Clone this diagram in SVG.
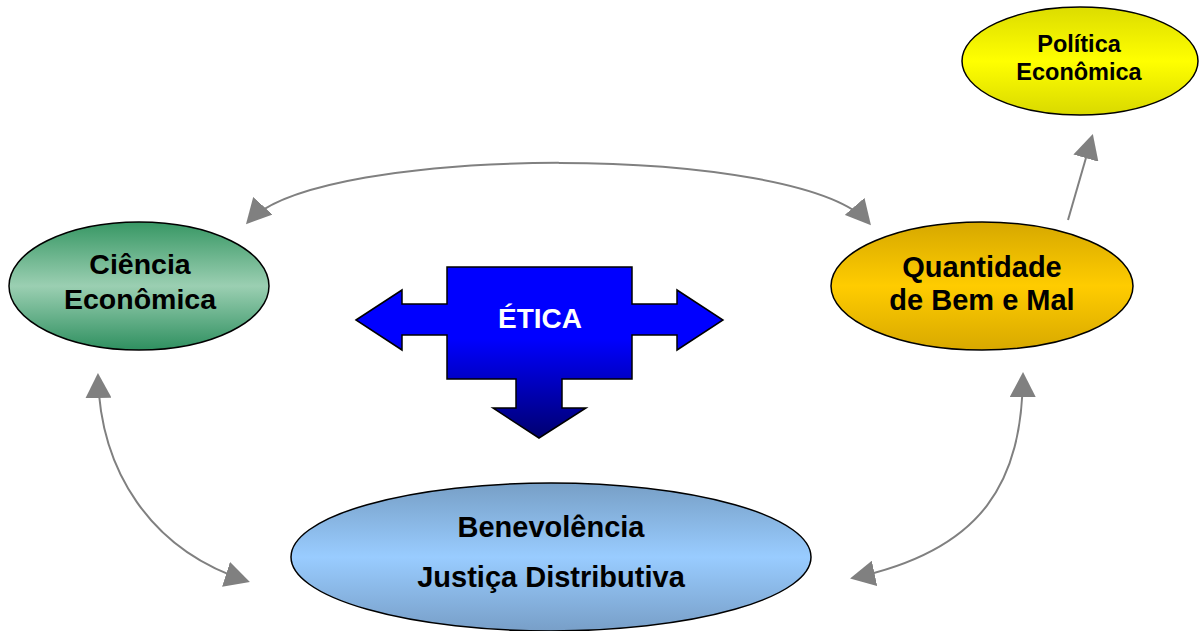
<svg xmlns="http://www.w3.org/2000/svg" width="1200" height="631" viewBox="0 0 1200 631">
  <style>
    .node { stroke: #000; stroke-width: 1.5; }
    .lbl { font-family: "Liberation Sans", Arial, sans-serif; font-weight: bold; fill: #000; text-anchor: middle; }
    .conn { fill: none; stroke: #808080; stroke-width: 2; }
  </style>
  <defs>
    <linearGradient id="gGreen" x1="0" y1="0" x2="0" y2="1">
      <stop offset="0" stop-color="#379764"/>
      <stop offset="0.5" stop-color="#9bcfb2"/>
      <stop offset="1" stop-color="#2f9060"/>
    </linearGradient>
    <linearGradient id="gGold" x1="0" y1="0" x2="0" y2="1">
      <stop offset="0" stop-color="#d6a800"/>
      <stop offset="0.5" stop-color="#ffcc00"/>
      <stop offset="1" stop-color="#d8a900"/>
    </linearGradient>
    <linearGradient id="gYellow" x1="0" y1="0" x2="0" y2="1">
      <stop offset="0" stop-color="#dcdc00"/>
      <stop offset="0.5" stop-color="#ffff00"/>
      <stop offset="1" stop-color="#d9d900"/>
    </linearGradient>
    <linearGradient id="gBlueLight" x1="0" y1="0" x2="0" y2="1">
      <stop offset="0" stop-color="#779fc6"/>
      <stop offset="0.5" stop-color="#99ccff"/>
      <stop offset="1" stop-color="#789fc8"/>
    </linearGradient>
    <linearGradient id="gBlue" gradientUnits="userSpaceOnUse" x1="0" y1="267" x2="0" y2="438">
      <stop offset="0" stop-color="#0000ff"/>
      <stop offset="0.42" stop-color="#0000ff"/>
      <stop offset="1" stop-color="#000070"/>
    </linearGradient>
    <marker id="arr" viewBox="0 0 25 26" refX="22" refY="13" markerWidth="25" markerHeight="26" markerUnits="userSpaceOnUse" orient="auto-start-reverse">
      <path d="M0,0 L25,13 L0,26 z" fill="#808080"/>
    </marker>
  </defs>

  <g id="connectors">
    <path class="conn" d="M248,222 C320,143 800,143 869,223" marker-start="url(#arr)" marker-end="url(#arr)"/>
    <path class="conn" d="M98,376 C100,470 150,550 247,581" marker-start="url(#arr)" marker-end="url(#arr)"/>
    <path class="conn" d="M1023,375 C1022,480 985,550 853,578" marker-start="url(#arr)" marker-end="url(#arr)"/>
    <path class="conn" d="M1068,220 L1092,137" marker-end="url(#arr)"/>
  </g>

  <g id="ciencia">
    <ellipse class="node" cx="139" cy="286" rx="130" ry="64" fill="url(#gGreen)"/>
    <text class="lbl" x="140" y="274" font-size="28.5">Ciência</text>
    <text class="lbl" x="140" y="309" font-size="28.5">Econômica</text>
  </g>

  <g id="quantidade">
    <ellipse class="node" cx="982" cy="286" rx="151" ry="64" fill="url(#gGold)"/>
    <text class="lbl" x="982" y="277" font-size="29">Quantidade</text>
    <text class="lbl" x="982" y="310" font-size="29">de Bem e Mal</text>
  </g>

  <g id="politica">
    <ellipse class="node" cx="1080" cy="61" rx="118" ry="54" fill="url(#gYellow)"/>
    <text class="lbl" x="1079" y="52" font-size="23.5">Política</text>
    <text class="lbl" x="1079" y="80" font-size="23.5">Econômica</text>
  </g>

  <g id="benevolencia">
    <ellipse class="node" cx="551" cy="557" rx="260" ry="74" fill="url(#gBlueLight)"/>
    <text class="lbl" x="551" y="537" font-size="29">Benevolência</text>
    <text class="lbl" x="551" y="587" font-size="29">Justiça Distributiva</text>
  </g>

  <g id="etica">
    <path d="M356,320 L402,290 L402,304 L447,304 L447,267 L632,267 L632,304 L677,304 L677,290 L723,320 L677,350 L677,335 L632,335 L632,379 L562,379 L562,408 L586,408 L539,438 L493,408 L516,408 L516,379 L447,379 L447,335 L402,335 L402,350 Z" fill="url(#gBlue)" stroke="#000" stroke-width="1.5" stroke-linejoin="miter"/>
    <text class="lbl" x="540" y="328" font-size="28" style="fill:#fff">ÉTICA</text>
  </g>
</svg>
